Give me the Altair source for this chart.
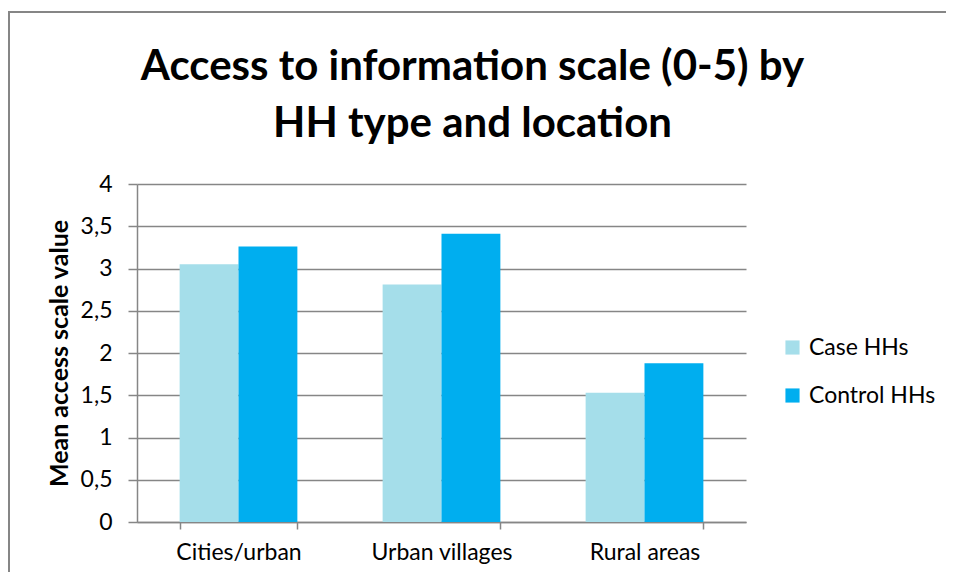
import altair as alt
import pandas as pd

categories = ["Cities/urban", "Urban villages", "Rural areas"]
series = ["Case HHs", "Control HHs"]
case_values = [3.05, 2.81, 1.53]
control_values = [3.26, 3.41, 1.88]
colors = ["#A5DEEA", "#00AEEF"]
y_ticks = [0, 0.5, 1, 1.5, 2, 2.5, 3, 3.5, 4]

rows = []
for c, v in zip(categories, case_values):
    rows.append({"location": c, "type": series[0], "value": v})
for c, v in zip(categories, control_values):
    rows.append({"location": c, "type": series[1], "value": v})
df = pd.DataFrame(rows)

FONT = "Lato"
GRAY = "#868686"

bars = alt.Chart(df).mark_bar().encode(
    x=alt.X(
        "location:N",
        sort=categories,
        scale=alt.Scale(paddingInner=0.42, paddingOuter=0.21),
        axis=alt.Axis(
            title=None,
            labelAngle=0,
            tickBand="extent",
            labelFontSize=23,
            labelFont=FONT,
            labelColor="#000000",
            labelPadding=12,
            domainColor=GRAY,
            tickColor=GRAY,
            tickSize=7,
            domainWidth=1.5,
            tickWidth=1.5,
            grid=False,
        ),
    ),
    xOffset=alt.XOffset("type:N", sort=series, scale=alt.Scale(paddingInner=0, paddingOuter=0)),
    y=alt.Y(
        "value:Q",
        scale=alt.Scale(domain=[0, 4], nice=False),
        axis=alt.Axis(
            title="Mean access scale value",
            titleFont=FONT,
            titleFontSize=25,
            titleFontWeight="bold",
            titleColor="#000000",
            titlePadding=8,
            values=y_ticks,
            labelExpr="replace(format(datum.value, '~g'), '.', ',')",
            labelFontSize=23,
            labelFont=FONT,
            labelColor="#000000",
            labelPadding=16,
            domainColor=GRAY,
            tickColor=GRAY,
            tickSize=9,
            domainWidth=1.5,
            tickWidth=1.5,
            gridColor=GRAY,
            gridWidth=1.5,
        ),
    ),
    color=alt.Color(
        "type:N",
        sort=series,
        scale=alt.Scale(domain=series, range=colors),
        legend=alt.Legend(
            title=None,
            orient="none",
            legendX=644,
            legendY=152,
            symbolType="square",
            symbolSize=200,
            symbolStrokeWidth=0,
            labelFont=FONT,
            labelFontSize=23,
            labelColor="#000000",
            rowPadding=24,
            labelOffset=5,
        ),
    ),
)

border_top = alt.Chart(df).mark_rule(color=GRAY, strokeWidth=1.5).encode(
    x=alt.value(-129), x2=alt.value(820), y=alt.value(-172)
)
border_left = alt.Chart(df).mark_rule(color=GRAY, strokeWidth=1.5).encode(
    x=alt.value(-128), y=alt.value(-172), y2=alt.value(400)
)

chart = alt.layer(border_top, border_left, bars).properties(
    width=609,
    height=338,
    autosize=alt.AutoSizeParams(type="none"),
    padding={"left": 129, "top": 176, "right": 200, "bottom": 50},
    title=alt.TitleParams(
        text=["Access to information scale (0-5) by", "HH type and location"],
        font=FONT,
        fontSize=42,
        fontWeight="bold",
        color="#000000",
        anchor="middle",
        dx=31,
        offset=-135,
        lineHeight=57,
    ),
).configure_view(stroke=None)

chart.save("out.html", embed_options={"renderer": "svg", "actions": False})
